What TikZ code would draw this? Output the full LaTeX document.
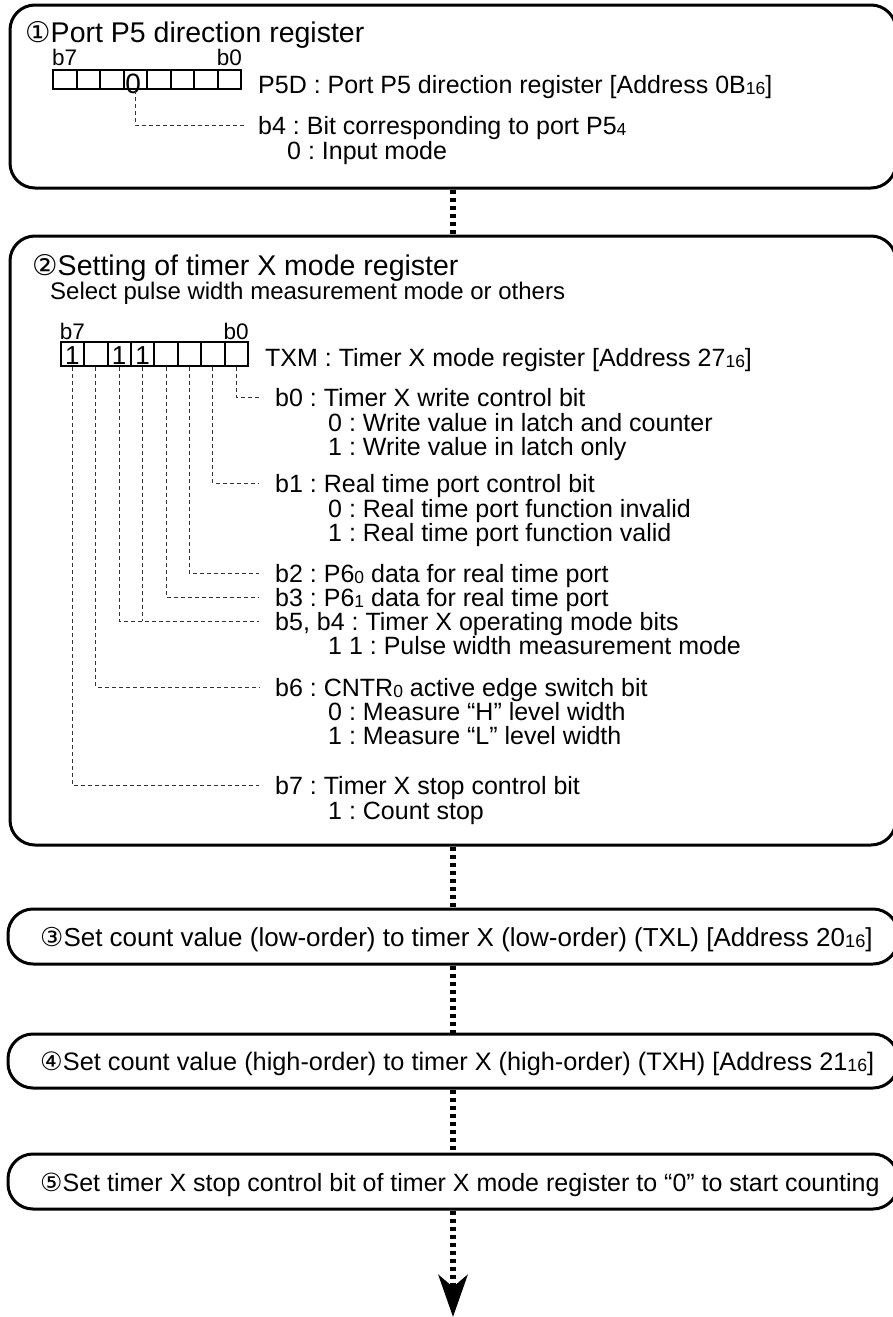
\documentclass[tikz,border=0pt]{standalone}
\usepackage{fontspec}
\setmainfont{Liberation Sans}
\newfontfamily\circfont{DejaVu Sans}
\usetikzlibrary{arrows.meta,positioning}
\frenchspacing

\newcommand{\cnum}[1]{{\circfont #1}}
\newcommand{\lo}[1]{\raisebox{-1pt}{\scalebox{0.7}{#1}}}

\begin{document}
\begin{tikzpicture}[
    x=1pt, y=-1pt,
    flowbox/.style={rectangle, draw, line width=3pt, rounded corners=25pt, minimum width=886pt, inner sep=0pt},
    stepbox/.style={flowbox, minimum width=890pt, minimum height=55pt},
    ttl/.style={anchor=west, inner sep=0pt, text height=20pt, text depth=0pt, font=\fontsize{28.5}{30}\selectfont},
    txt/.style={anchor=west, inner sep=0pt, text height=18pt, text depth=0pt, font=\fontsize{25}{27}\selectfont},
    bitlbl/.style={inner sep=0pt, text depth=0pt, font=\fontsize{22.5}{24}\selectfont},
    bitval/.style={inner sep=0pt, font=\fontsize{26}{26}\selectfont},
    cellA/.style={rectangle, draw, line width=2pt, minimum width=23.5pt, minimum height=19pt, inner sep=0pt},
    cellB/.style={rectangle, draw, line width=2pt, minimum width=23.4pt, minimum height=24pt, inner sep=0pt},
    lead/.style={draw=black!80, line width=0.9pt, dash pattern=on 4pt off 3pt},
    link/.style={draw, line width=6.5pt, dash pattern=on 4pt off 4pt},
  ]
  \useasboundingbox (0,0) rectangle (893,1317);

  %% ===== STEP 1: port direction =====
  \node[flowbox, minimum height=183pt] (box1) at (453, 96.5) {};
  \node[ttl] (ttl1) at (25, 32) {\cnum{①}Port P5 direction register};

  \foreach \i [evaluate=\i as \b using int(7-\i)] in {0,...,7}
    \node[cellA] (pa\b) at ({64.75+23.5*\i}, 79.5) {};
  \node[bitlbl, anchor=south west, yshift=3pt] (pa7l) at (pa7.north west) {b7};
  \node[bitlbl, anchor=south east, yshift=3pt] (pa0l) at (pa0.north east) {b0};
  \node[bitval, font=\fontsize{28}{28}\selectfont] (pa4v) at ([xshift=-2pt, yshift=-4pt]pa4.center) {0};

  \node[txt] (p5d) at (258, 84) {P5D : Port P5 direction register [Address 0B\lo{16}]};
  \node[txt] (ta4) at (258, 125) {b4 : Bit corresponding to port P5\lo{4}};
  \node[txt] (ta4a) at (287, 150) {0 : Input mode};
  \draw[lead, shorten >=11pt] (pa4.south) |- (ta4.west);

  %% ===== STEP 2: timer X mode register =====
  \node[flowbox, minimum height=609pt] (box2) at (453, 540.5) {};
  \node[ttl] (ttl2) at (32, 265) {\cnum{②}Setting of timer X mode register};
  \node[txt, font=\fontsize{24}{26}\selectfont] (sub2) at (50, 290) {Select pulse width measurement mode or others};

  \foreach \i [evaluate=\i as \b using int(7-\i)] in {0,...,7}
    \node[cellB] (pb\b) at ({72.4+23.4*\i}, 354) {};
  \node[bitlbl, anchor=south west, yshift=1pt] (pb7l) at (pb7.north west) {b7};
  \node[bitlbl, anchor=south east, yshift=1pt] (pb0l) at (pb0.north east) {b0};
  \foreach \b in {7,5,4}
    \node[bitval] (pb\b v) at ([yshift=-1.5pt]pb\b.center) {1};

  \node[txt] (txm) at (265, 357) {TXM : Timer X mode register [Address 27\lo{16}]};

  \node[txt] (tb0) at (275, 397) {b0 : Timer X write control bit};
  \node[txt] (tb0a) at (328, 422) {0 : Write value in latch and counter};
  \node[txt] (tb0b) at (328, 446) {1 : Write value in latch only};
  \node[txt] (tb1) at (275, 483) {b1 : Real time port control bit};
  \node[txt] (tb1a) at (328, 508) {0 : Real time port function invalid};
  \node[txt] (tb1b) at (328, 532) {1 : Real time port function valid};
  \node[txt] (tb2) at (275, 573) {b2 : P6\lo{0} data for real time port};
  \node[txt] (tb3) at (275, 597) {b3 : P6\lo{1} data for real time port};
  \node[txt] (tb54) at (275, 621) {b5, b4 : Timer X operating mode bits};
  \node[txt] (tb54a) at (328, 645) {1 1 : Pulse width measurement mode};
  \node[txt] (tb6) at (275, 687) {b6 : CNTR\lo{0} active edge switch bit};
  \node[txt] (tb6a) at (328, 711) {0 : Measure “H” level width};
  \node[txt] (tb6b) at (328, 735) {1 : Measure “L” level width};
  \node[txt] (tb7) at (275, 785) {b7 : Timer X stop control bit};
  \node[txt] (tb7a) at (328, 810) {1 : Count stop};

  %% bit leaders
  \foreach \b in {0,1,2,3,6,7}
    \draw[lead, shorten >=16pt] (pb\b.south) |- (tb\b.west);
  \draw[lead, shorten >=16pt] (pb5.south) |- (tb54.west);
  \draw[lead] (pb4.south) -- (pb4.south |- tb54.west);

  %% ===== STEPS 3-5 =====
  \node[stepbox] (box3) at (453, 936.5) {};
  \node[txt, font=\fontsize{26}{28}\selectfont] (ttl3) at (40, 937) {\cnum{③}Set count value (low-order) to timer X (low-order) (TXL) [Address 20\lo{16}]};
  \node[stepbox, minimum height=54pt] (box4) at (453, 1061) {};
  \node[txt, font=\fontsize{25.3}{27}\selectfont] (ttl4) at (40, 1061) {\cnum{④}Set count value (high-order) to timer X (high-order) (TXH) [Address 21\lo{16}]};
  \node[stepbox] (box5) at (453, 1181.5) {};
  \node[txt] (ttl5) at (40, 1182) {\cnum{⑤}Set timer X stop control bit of timer X mode register to “0” to start counting};

  %% ===== FLOW =====
  \coordinate (tip) at (453, 1317);
  \draw[link] (box1.south) -- (box2.north);
  \draw[link] (box2.south) -- (box3.north);
  \draw[link] (box3.south) -- (box4.north);
  \draw[link] (box4.south) -- (box5.north);
  \draw[link, -{Stealth[length=42pt, width=29pt, inset=12pt]}] (box5.south) -- (tip);

\end{tikzpicture}
\end{document}
